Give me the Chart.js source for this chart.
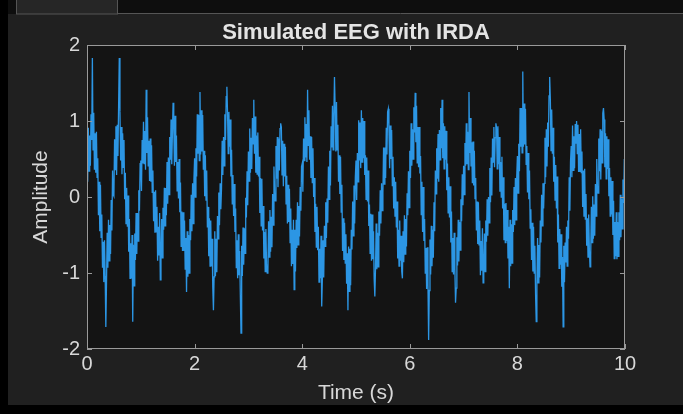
<!DOCTYPE html>
<html>
<head>
<meta charset="utf-8">
<script src="https://cdn.jsdelivr.net/npm/chart.js@4.4.1/dist/chart.umd.min.js"></script>
<style>
  html, body { margin: 0; padding: 0; background: #000; }
  canvas { display: block; }
</style>
</head>
<body>
<canvas id="eegChart" width="683" height="414"></canvas>
<script>
const sampleStep = 0.0125; // seconds between samples

// amplitude, one row per half second (40 samples)
const amplitude = [
  0.58, 0.20, 0.91, 0.34, 0.81, 0.41, 1.09, 0.75, 1.83, 0.62, 1.11, 0.36, 0.84, 0.32, 0.86, 0.26, 0.51, -0.24, 0.20, -0.45,
  0.16, -0.53, -0.23, -0.93, -0.59, -1.12, -0.57, -1.04, -1.71, -1.13, -0.47, -0.93, -0.30, -0.84, -0.37, -0.75, -0.04, -0.44, 0.35, 0.03,
  0.01, 0.76, 0.36, 0.93, 0.29, 0.95, 0.54, 1.20, 1.83, 1.12, 0.48, 0.92, 0.30, 0.84, 0.39, 0.75, -0.03, 0.32, -0.35, 0.12,
  -0.39, 0.02, -0.72, -0.29, -1.07, -0.61, -1.07, -0.50, -1.64, -0.63, -1.17, -0.48, -0.83, -0.21, -0.75, -0.21, -0.58, 0.09, -0.18, 0.44,
  0.48, 0.08, 0.75, 0.44, 0.99, 0.44, 0.87, 0.36, 1.41, 0.58, 1.05, 0.41, 0.74, 0.21, 0.77, 0.20, 0.68, 0.06, 0.35, -0.32,
  0.07, -0.47, 0.09, -0.46, -0.13, -0.84, -0.39, -0.77, -0.21, -1.09, -0.78, -0.29, -0.80, -0.14, -0.43, 0.12, -0.38, 0.12, -0.24, 0.46,
  -0.09, 0.52, 0.03, 0.79, 0.49, 1.02, 0.43, 0.83, 1.24, 0.96, 0.41, 1.07, 0.46, 0.81, 0.08, 0.46, -0.02, 0.50, -0.20, 0.19,
  -0.65, -0.19, -0.71, -0.20, -0.71, -0.31, -0.95, -0.54, -1.25, -0.45, -1.05, -0.50, -1.00, -0.29, -0.57, 0.03, -0.45, 0.18, -0.35, 0.23,
  0.51, 0.00, 0.64, 0.27, 1.09, 0.57, 1.08, 0.48, 1.38, 0.56, 1.14, 0.60, 1.08, 0.36, 0.61, 0.01, 0.55, -0.04, 0.35, -0.40,
  -0.13, -0.78, -0.28, -0.91, -0.31, -0.91, -0.55, -1.18, -1.49, -1.05, -0.45, -1.04, -0.55, -0.99, -0.25, -0.55, 0.06, -0.37, 0.18, -0.16,
  0.11, 0.74, 0.29, 0.79, 0.41, 1.09, 0.75, 1.32, 1.45, 1.10, 0.57, 1.12, 0.66, 1.02, 0.27, 0.62, -0.09, 0.29, -0.25, 0.17,
  -0.46, -0.15, -0.93, -0.57, -1.07, -0.49, -1.03, -0.71, -1.29, -1.79, -0.64, -1.04, -0.40, -0.89, -0.41, -0.74, -0.01, -0.27, 0.34, -0.11,
  0.60, 0.21, 0.90, 0.32, 0.78, 0.37, 1.04, 0.70, 1.28, 0.57, 1.06, 0.32, 0.81, 0.30, 0.85, 0.27, 0.53, -0.21, 0.25, -0.38,
  0.24, -0.44, -0.12, -0.81, -0.46, -0.98, -0.42, -0.89, -1.00, -0.98, -0.32, -0.79, -0.17, -0.72, -0.26, -0.66, 0.04, -0.37, 0.40, 0.06,
  -0.05, 0.67, 0.24, 0.79, 0.13, 0.77, 0.35, 0.90, 0.97, 0.92, 0.29, 0.74, 0.14, 0.70, 0.27, 0.66, -0.09, 0.28, -0.35, 0.16,
  -0.33, 0.11, -0.60, -0.15, -0.91, -0.43, -0.88, -0.30, -1.22, -0.43, -0.98, -0.30, -0.67, -0.07, -0.63, -0.12, -0.52, 0.13, -0.18, 0.40,
  0.44, 0.07, 0.77, 0.48, 1.05, 0.52, 0.96, 0.46, 1.41, 0.68, 1.14, 0.49, 0.80, 0.25, 0.79, 0.19, 0.64, 0.00, 0.25, -0.46,
  -0.09, -0.66, -0.13, -0.70, -0.39, -1.12, -0.68, -1.07, -0.51, -1.44, -1.07, -0.57, -1.06, -0.38, -0.65, -0.07, -0.54, -0.02, -0.34, 0.40,
  -0.03, 0.61, 0.15, 0.93, 0.65, 1.20, 0.62, 1.03, 1.58, 1.16, 0.60, 1.25, 0.62, 0.95, 0.20, 0.55, 0.04, 0.53, -0.20, 0.16,
  -0.71, -0.28, -0.83, -0.34, -0.87, -0.49, -1.14, -0.74, -1.49, -0.65, -1.24, -0.68, -1.16, -0.43, -0.69, -0.06, -0.51, 0.15, -0.35, 0.26,
  0.48, -0.04, 0.58, 0.20, 1.01, 0.48, 0.98, 0.38, 1.14, 0.46, 1.04, 0.51, 1.00, 0.29, 0.55, -0.03, 0.52, -0.06, 0.35, -0.38,
  -0.10, -0.74, -0.22, -0.84, -0.23, -0.82, -0.45, -1.08, -1.31, -0.95, -0.35, -0.95, -0.47, -0.92, -0.19, -0.51, 0.09, -0.35, 0.18, -0.18,
  0.05, 0.65, 0.17, 0.65, 0.25, 0.91, 0.56, 1.12, 1.16, 0.90, 0.38, 0.94, 0.50, 0.88, 0.15, 0.53, -0.15, 0.26, -0.25, 0.20,
  -0.40, -0.06, -0.81, -0.43, -0.91, -0.31, -0.84, -0.51, -0.98, -1.07, -0.45, -0.86, -0.24, -0.75, -0.29, -0.65, 0.05, -0.24, 0.34, -0.14,
  0.61, 0.25, 0.97, 0.41, 0.89, 0.50, 1.18, 0.85, 1.37, 0.72, 1.20, 0.45, 0.92, 0.39, 0.92, 0.31, 0.54, -0.23, 0.20, -0.46,
  0.13, -0.58, -0.29, -1.00, -0.67, -1.21, -0.66, -1.14, -1.88, -1.23, -0.56, -1.02, -0.38, -0.91, -0.43, -0.80, -0.07, -0.45, 0.35, 0.04,
  0.64, 0.24, 0.83, 0.20, 0.88, 0.49, 1.17, 0.64, 1.28, 0.51, 0.97, 0.37, 0.93, 0.49, 0.87, 0.09, 0.44, -0.21, 0.26, -0.27,
  0.14, -0.60, -0.19, -0.98, -0.54, -1.02, -0.47, -0.94, -1.39, -1.20, -0.53, -0.90, -0.30, -0.85, -0.33, -0.70, -0.03, -0.32, 0.30, -0.11,
  0.41, 0.03, 0.71, 0.41, 0.97, 0.43, 0.86, 0.36, 1.38, 0.58, 1.04, 0.40, 0.72, 0.18, 0.73, 0.15, 0.61, -0.02, 0.25, -0.44,
  -0.06, -0.62, -0.07, -0.63, -0.31, -1.03, -0.58, -0.97, -0.41, -1.13, -0.97, -0.48, -0.98, -0.31, -0.59, -0.03, -0.51, 0.00, -0.34, 0.38,
  -0.07, 0.52, 0.02, 0.77, 0.46, 0.92, 0.39, 0.78, 0.97, 0.91, 0.37, 0.93, 0.43, 0.79, 0.07, 0.46, 0.00, 0.53, -0.15, 0.26,
  -0.57, -0.09, -0.60, -0.08, -0.58, -0.17, -0.81, -0.39, -1.20, -0.30, -0.91, -0.36, -0.87, -0.17, -0.46, 0.13, -0.37, 0.25, -0.30, 0.26,
  0.54, 0.05, 0.70, 0.34, 1.17, 0.66, 1.17, 0.58, 1.65, 0.66, 1.23, 0.69, 1.16, 0.43, 0.67, 0.06, 0.58, -0.03, 0.35, -0.41,
  -0.16, -0.83, -0.34, -0.98, -0.39, -1.00, -0.64, -1.28, -1.64, -1.15, -0.54, -1.13, -0.63, -1.06, -0.31, -0.60, 0.03, -0.38, 0.18, -0.15,
  0.18, 0.78, 0.26, 0.89, 0.40, 0.98, 0.66, 1.33, 1.58, 1.28, 0.61, 1.15, 0.57, 0.91, 0.20, 0.53, -0.04, 0.42, -0.15, 0.27,
  -0.60, -0.23, -0.94, -0.42, -0.89, -0.49, -1.18, -0.79, -1.71, -0.64, -1.12, -0.60, -0.86, -0.39, -0.91, -0.31, -0.55, 0.26, -0.18, 0.47,
  0.67, 0.26, 0.94, 0.35, 0.80, 0.38, 0.96, 0.70, 1.00, 0.57, 0.95, 0.33, 0.83, 0.33, 0.89, 0.32, 0.60, -0.13, 0.35, -0.26,
  0.37, -0.29, 0.04, -0.64, -0.28, -0.79, -0.23, -0.69, -0.92, -0.78, -0.13, -0.60, 0.01, -0.55, -0.10, -0.51, 0.17, -0.25, 0.50, 0.14,
  0.05, 0.77, 0.34, 0.89, 0.23, 0.87, 0.45, 1.10, 1.17, 1.02, 0.39, 0.84, 0.24, 0.80, 0.37, 0.76, 0.01, 0.38, -0.25, 0.26,
  -0.23, 0.21, -0.50, -0.05, -0.81, -0.33, -0.78, -0.20, -0.82, -0.33, -0.78, -0.20, -0.57, 0.03, -0.53, -0.02, -0.42, 0.23, -0.08, 0.50,
  -0.20
];

const xTicks = [0, 2, 4, 6, 8, 10];
const yTicks = [-2, -1, 0, 1, 2];
const chartTitle = "Simulated EEG with IRDA";

const points = amplitude.map((v, i) => ({ x: +(i * sampleStep).toFixed(4), y: v }));

const textColor = "#d8d8d8";
const boxColor = "#9a9a9a";
const fontFamily = "Liberation Sans, Arial, sans-serif";

// figure background, tab strip and axes background
const backdrop = {
  id: "backdrop",
  beforeDraw(chart) {
    const c = chart.ctx;
    const a = chart.chartArea;
    c.save();
    c.fillStyle = "#000";
    c.fillRect(0, 0, chart.width, chart.height);
    c.fillStyle = "#0e0e0e";
    c.fillRect(8, 0, chart.width - 8, 14);
    c.fillStyle = "#202020";
    c.fillRect(8, 14, chart.width - 8, 391);
    c.fillStyle = "#262626";
    c.fillRect(16, 0, 102, 14);
    c.strokeStyle = "#555";
    c.lineWidth = 1;
    c.strokeRect(16.5, -1, 101, 15);
    c.beginPath();
    c.moveTo(118, 13.5);
    c.lineTo(chart.width, 13.5);
    c.stroke();
    c.fillStyle = "#141414";
    c.fillRect(a.left, a.top, a.right - a.left, a.bottom - a.top);
    c.restore();
  }
};

// MATLAB style box with inward ticks on every side, title over the axes
const boxTicks = {
  id: "boxTicks",
  afterDraw(chart) {
    const c = chart.ctx;
    const a = chart.chartArea;
    const xs = chart.scales.x;
    const ys = chart.scales.y;
    const len = 5;
    c.save();
    c.strokeStyle = boxColor;
    c.lineWidth = 1;
    c.strokeRect(a.left + 0.5, a.top + 0.5, a.right - a.left - 1, a.bottom - a.top - 1);
    c.beginPath();
    xTicks.forEach(t => {
      const px = Math.round(xs.getPixelForValue(t)) + 0.5;
      c.moveTo(px, a.bottom);
      c.lineTo(px, a.bottom - len);
      c.moveTo(px, a.top);
      c.lineTo(px, a.top + len);
    });
    yTicks.forEach(t => {
      const py = Math.round(ys.getPixelForValue(t)) + 0.5;
      c.moveTo(a.left, py);
      c.lineTo(a.left + len, py);
      c.moveTo(a.right, py);
      c.lineTo(a.right - len, py);
    });
    c.stroke();

    c.fillStyle = "#e4e4e4";
    c.font = "bold 22px " + fontFamily;
    c.textAlign = "center";
    c.textBaseline = "middle";
    c.fillText(chartTitle, (a.left + a.right) / 2, 33);
    c.restore();
  }
};

const ctx = document.getElementById("eegChart").getContext("2d");

const chart = new Chart(ctx, {
  type: "line",
  data: {
    datasets: [{
      label: "EEG",
      data: points,
      borderColor: "rgb(44, 150, 228)",
      borderWidth: 1.3,
      pointRadius: 0,
      tension: 0,
      fill: false
    }]
  },
  options: {
    responsive: false,
    animation: false,
    devicePixelRatio: 1,
    layout: { padding: { left: 0, right: 58, top: 45, bottom: 0 } },
    plugins: {
      legend: { display: false },
      tooltip: { enabled: false },
      title: { display: false }
    },
    scales: {
      x: {
        type: "linear",
        min: 0,
        max: 10,
        afterBuildTicks: s => { s.ticks = xTicks.map(v => ({ value: v })); },
        afterFit: s => { s.height = 65; s.paddingLeft = 0; s.paddingRight = 0; },
        grid: { display: false, drawTicks: false },
        border: { display: false },
        ticks: {
          color: textColor,
          padding: 3,
          maxRotation: 0,
          font: { family: fontFamily, size: 20 }
        },
        title: {
          display: true,
          text: "Time (s)",
          color: textColor,
          font: { family: fontFamily, size: 21 },
          padding: { top: 0, bottom: 8 }
        }
      },
      y: {
        min: -2,
        max: 2,
        afterBuildTicks: s => { s.ticks = yTicks.map(v => ({ value: v })); },
        afterFit: s => { s.width = 87; s.paddingTop = 0; s.paddingBottom = 0; },
        grid: { display: false, drawTicks: false },
        border: { display: false },
        ticks: {
          color: textColor,
          padding: 7,
          font: { family: fontFamily, size: 20 }
        },
        title: {
          display: true,
          text: "Amplitude",
          color: textColor,
          font: { family: fontFamily, size: 21 },
          padding: { top: 29, bottom: 0 }
        }
      }
    }
  },
  plugins: [backdrop, boxTicks]
});
</script>
</body>
</html>
